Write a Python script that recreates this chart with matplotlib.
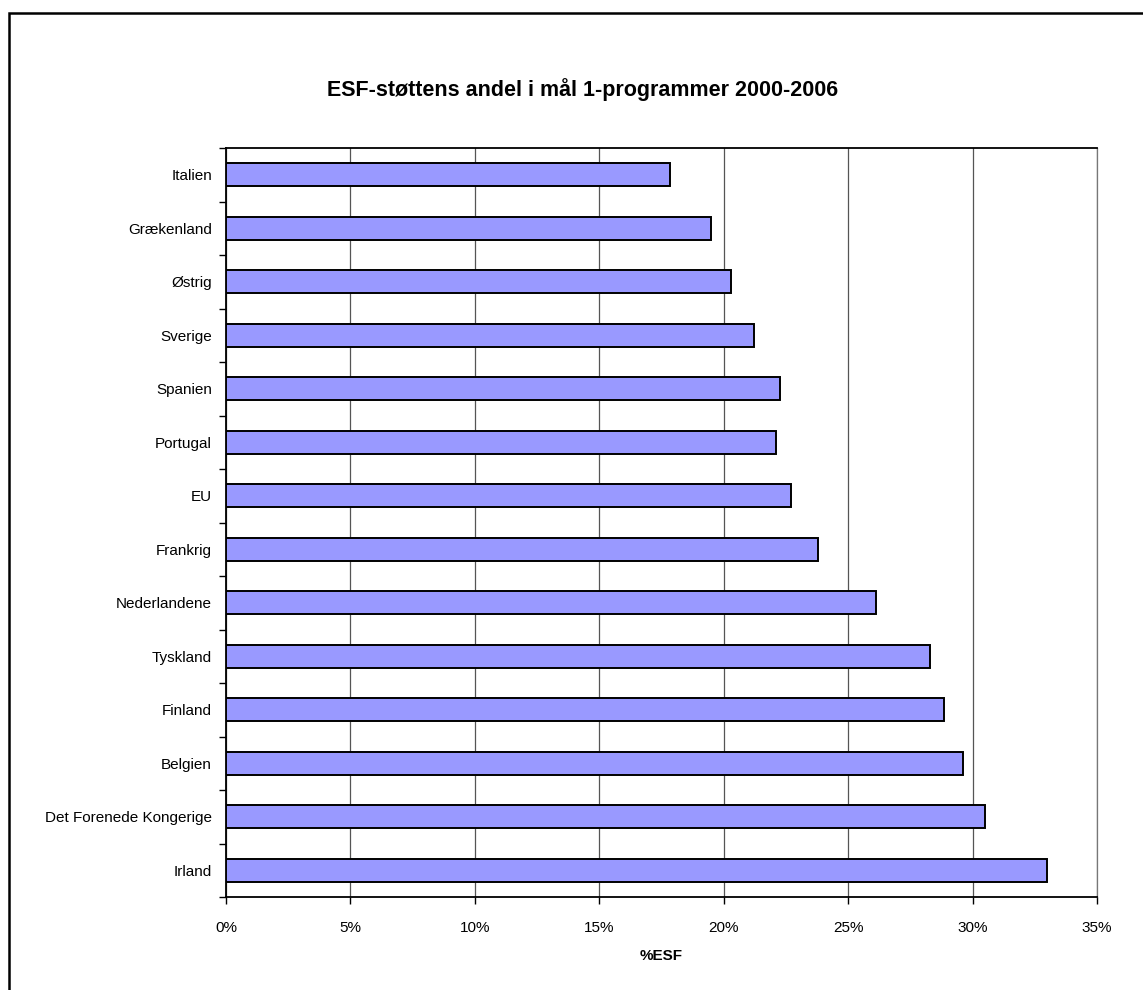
import numpy as np
import matplotlib.pyplot as plt
from matplotlib.patches import Rectangle

plt.rcParams['font.family'] = ['Liberation Sans', 'DejaVu Sans']

# Data (top to bottom as shown)
lande = ['Italien', 'Grækenland', 'Østrig', 'Sverige', 'Spanien', 'Portugal', 'EU',
         'Frankrig', 'Nederlandene', 'Tyskland', 'Finland', 'Belgien',
         'Det Forenede Kongerige', 'Irland']
andel_esf = [17.85, 19.5, 20.3, 21.2, 22.25, 22.1, 22.7,
             23.8, 26.1, 28.3, 28.85, 29.6, 30.5, 33.0]
xticks = [0, 5, 10, 15, 20, 25, 30, 35]

fig = plt.figure(figsize=(11.43, 9.9), dpi=100)
ax = fig.add_axes([0.1977, 0.0939, 0.7621, 0.7566])

# outer frame of the chart
fig.patches.append(Rectangle((9 / 1143, -0.05), 1.2, 0.05 + (990 - 13) / 990,
                             transform=fig.transFigure, fill=False,
                             edgecolor='black', linewidth=1.8))

y = np.arange(len(lande))[::-1]
ax.barh(y, andel_esf, height=0.43, color='#9999FF', edgecolor='black',
        linewidth=1.4, zorder=3)

ax.set_xlim(0, 35)
ax.set_ylim(-0.5, len(lande) - 0.5)
ax.set_xticks(xticks)
ax.set_xticklabels([f'{v}%' for v in xticks], fontsize=11)
ax.set_yticks(y)
ax.set_yticklabels(lande, fontsize=11)
ax.set_yticks(np.arange(len(lande) + 1) - 0.5, minor=True)
ax.tick_params(axis='y', which='major', length=0, pad=10)
ax.tick_params(axis='y', which='minor', length=5, width=1, direction='out')
ax.tick_params(axis='x', length=5, width=1, direction='out', pad=12)

ax.grid(axis='x', color='#555555', linewidth=0.9, zorder=0)
ax.set_axisbelow(True)
for s in ['left', 'bottom', 'top']:
    ax.spines[s].set_linewidth(1.3)
ax.spines['right'].set_color('#777777')
ax.spines['right'].set_linewidth(0.9)

ax.set_xlabel('%ESF', fontsize=11, fontweight='bold', labelpad=10)
fig.text(0.51, 0.91, 'ESF-støttens andel i mål 1-programmer 2000-2006',
         ha='center', va='center', fontsize=15.5, fontweight='bold')

fig.savefig('out.png', dpi=100)
